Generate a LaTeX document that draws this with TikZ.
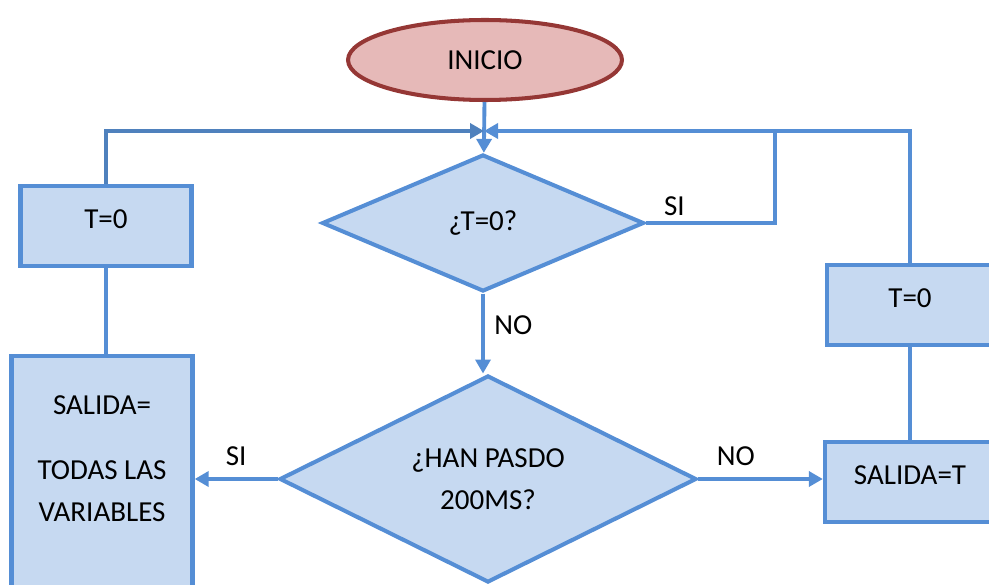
\documentclass[tikz,border=0pt]{standalone}
\usepackage{fontspec}
\setmainfont{Carlito}
\usetikzlibrary{shapes.geometric,arrows.meta}

\definecolor{boxfill}{HTML}{C6D9F1}
\definecolor{boxline}{HTML}{558ED5}
\definecolor{loopline}{HTML}{4F81BD}
\definecolor{startfill}{HTML}{E6B9B8}
\definecolor{startline}{HTML}{953735}

\begin{document}
\begin{tikzpicture}[
    x=0.02cm, y=-0.02cm,
    every node/.style={font=\fontsize{16.5}{24}\selectfont},
    startbox/.style={ellipse, draw=startline, fill=startfill, line width=2.3pt, minimum width=5.48cm, minimum height=1.6cm},
    procbox/.style={rectangle, draw=boxline, fill=boxfill, line width=2.5pt, minimum height=1.6cm, align=center, text height=0.7em, text depth=0.45em},
    decbox/.style={diamond, draw=boxline, fill=boxfill, line width=2.3pt, inner sep=0pt, align=center},
    line/.style={draw=boxline, line width=2.2pt},
    arrow/.style={line, -{Triangle[length=0.28cm,width=0.3cm]}}
]
\useasboundingbox (0,0) rectangle (989,584);
\clip (0,0) rectangle (989,584);

% Start
\node[startbox] (inicio) at (485,60) {INICIO};

% Decisions
\node[decbox, minimum width=6.44cm, minimum height=2.74cm, aspect=2.35] (tcero) at (483,223) {¿T=0?};
\node[decbox, minimum width=8.34cm, minimum height=4.14cm, aspect=2.0] (tiempo) at (488,479) {¿HAN PASDO\\200MS?};

% Left branch
\node[procbox, minimum width=3.42cm] (resetizq) at (106,226) {T=0};
\node[procbox, text height=, text depth=, minimum width=3.62cm, minimum height=4.64cm] (salida) at (102,472) {SALIDA=\\[13pt]TODAS LAS\\VARIABLES\\[-9pt]\mbox{}};

% Right branch
\node[procbox, minimum width=3.32cm] (resetder) at (910,305) {T=0};
\node[procbox, minimum width=3.4cm] (salidat) at (910,482) {SALIDA=T};

% Junction above the first decision
\coordinate (join) at (484,131);
\coordinate (siup) at (775,131);

% Arrows
\draw[arrow] (inicio) -- (tcero);
\draw[arrow] (tcero.south) -- node[pos=0.4, right, xshift=2pt] {NO} (tcero.south |- tiempo.north);
\draw[arrow] (tiempo.west) -- node[above, yshift=3pt] {SI} (tiempo.west -| salida.east);
\draw[arrow] (tiempo.east) -- node[pos=0.3, above, yshift=3pt] {NO} (tiempo.east -| salidat.west);
\draw[line] (tcero.east) -- node[pos=0.22, above] {SI} (tcero.east -| siup) -- (siup);

% Loops back to the top
\draw[arrow, draw=loopline] (resetizq.north) |- (join);
\draw[arrow] (resetder.north) |- (join);
\draw[line] (resetizq.south) -- (resetizq.south |- salida.north);
\draw[line] (resetder.south) -- (salidat.north);

\end{tikzpicture}
\end{document}
